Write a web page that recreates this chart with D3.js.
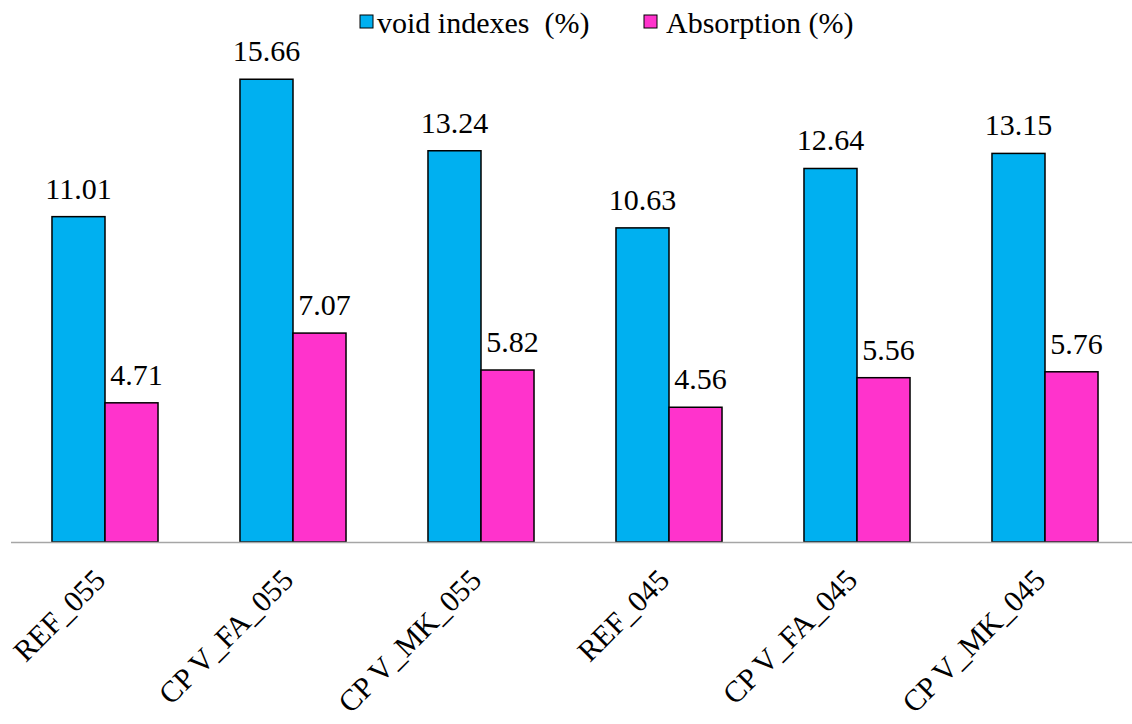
<!DOCTYPE html>
<html><head><meta charset="utf-8">
<script src="https://cdn.jsdelivr.net/npm/d3@7"></script>
</head><body style="margin:0">
<svg id="c" width="1132" height="724" style="display:block"></svg>
<script>
const categories = ["REF_055","CP V_FA_055","CP V_MK_055","REF_045","CP V_FA_045","CP V_MK_045"];
const seriesNames = ["void indexes  (%)","Absorption (%)"];
const voidIndexes = [11.01,15.66,13.24,10.63,12.64,13.15];
const absorption = [4.71,7.07,5.82,4.56,5.56,5.76];
const colors = ["#00B0F0","#FF33CC"];
const FONT = '"Times New Roman", Tinos, "Liberation Serif", FreeSerif, serif';

const svg = d3.select("#c");
const baseY = 542;
const y = d3.scaleLinear().domain([0,18]).range([baseY, baseY - 18*29.55]);
const x0 = d3.scaleBand().domain(categories).range([11,1139]).paddingInner(0.436).paddingOuter(0.218);
const x1 = d3.scaleBand().domain([0,1]).range([0,x0.bandwidth()]);
const data = categories.map((c,i)=>({c, vals:[voidIndexes[i], absorption[i]]}));

const g = svg.selectAll("g.grp").data(data).join("g").attr("class","grp")
  .attr("transform", d=>`translate(${x0(d.c)},0)`);
g.selectAll("rect").data(d=>d.vals.map((v,k)=>({v,k}))).join("rect")
  .attr("x", d=>x1(d.k)).attr("width", x1.bandwidth())
  .attr("y", d=>y(d.v)).attr("height", d=>y(0)-y(d.v))
  .attr("fill", d=>colors[d.k]).attr("stroke","#000").attr("stroke-width",1.5);
g.selectAll("text.val").data(d=>d.vals.map((v,k)=>({v,k}))).join("text").attr("class","val")
  .attr("x", d=>x1(d.k)+x1.bandwidth()/2 + (d.k===1?5:0))
  .attr("y", d=>y(d.v)-18)
  .attr("text-anchor","middle").attr("fill","#000")
  .attr("font-family",FONT).style("font-family",FONT).style("font-size","30px")
  .text(d=>d.v.toFixed(2));

// baseline
svg.append("line").attr("x1",11).attr("x2",1132).attr("y1",baseY+0.5).attr("y2",baseY+0.5)
  .attr("stroke","#a6a6a6").attr("stroke-width",1.5);

// category labels
svg.selectAll("text.cat").data(categories).join("text").attr("class","cat")
  .attr("text-anchor","end").attr("fill","#000")
  .attr("font-family",FONT).style("font-family",FONT).style("font-size","30px")
  .attr("transform", d=>`translate(${x0(d)+x0.bandwidth()/2+2},582) rotate(-45)`)
  .text(d=>d);

// legend
const legendX = [360, 644];
const lg = svg.selectAll("g.leg").data(seriesNames).join("g").attr("class","leg")
  .attr("transform",(d,i)=>`translate(${legendX[i]},0)`);
lg.append("rect").attr("x",0).attr("y",15).attr("width",13).attr("height",13)
  .attr("fill",(d,i)=>colors[i]).attr("stroke","#000").attr("stroke-width",1);
lg.append("text").attr("x",(d,i)=>i===0?17:22).attr("y",33).attr("fill","#000")
  .attr("font-family",FONT).style("font-family",FONT).style("font-size","30px")
  .style("white-space","pre").text(d=>d);
</script>
</body></html>
